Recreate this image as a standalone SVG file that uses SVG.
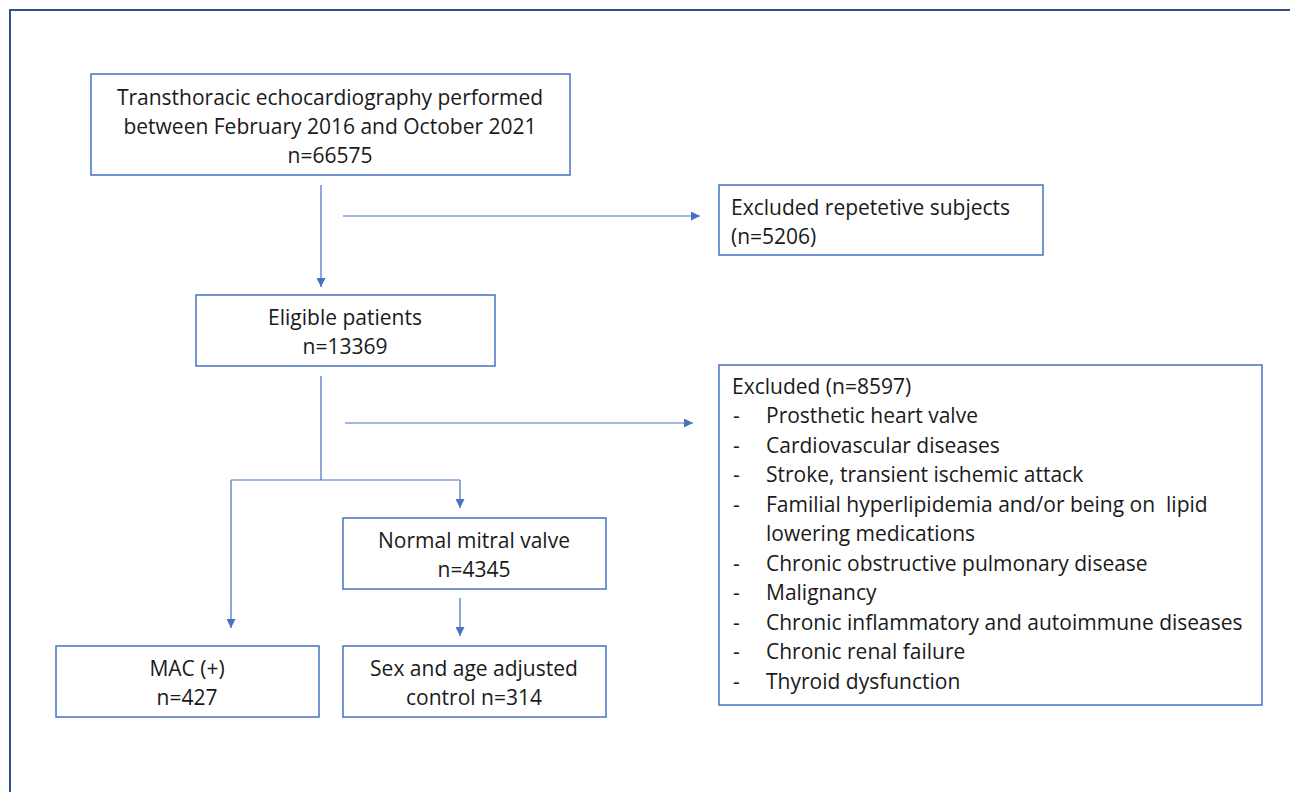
<svg xmlns="http://www.w3.org/2000/svg" width="1290" height="792" viewBox="0 0 1290 792">
<defs>
<style>
.box{fill:#fff;stroke:#4472c4;stroke-width:1.5}
.t{font-family:"Open Sans","Liberation Sans",sans-serif;font-size:21px;fill:#1a1a1a}
.c{text-anchor:middle}
.ln{stroke:#4472c4;stroke-width:1.2;fill:none}
</style>
<marker id="ah" viewBox="0 0 10 10" refX="10" refY="5" markerWidth="9" markerHeight="9" markerUnits="userSpaceOnUse" orient="auto">
<path d="M0,0 L10,5 L0,10 z" fill="#4472c4"/>
</marker>
</defs>
<rect width="1290" height="792" fill="#fff"/>
<path d="M10,792 V10 H1290" fill="none" stroke="#2f528f" stroke-width="2"/>
<g id="connectors">
<line class="ln" x1="321" y1="185" x2="321" y2="287" marker-end="url(#ah)"/>
<line class="ln" x1="343" y1="216" x2="700" y2="216" marker-end="url(#ah)"/>
<line class="ln" x1="321" y1="376" x2="321" y2="480"/>
<line class="ln" x1="231" y1="480" x2="460" y2="480"/>
<line class="ln" x1="231" y1="480" x2="231" y2="628" marker-end="url(#ah)"/>
<line class="ln" x1="460" y1="480" x2="460" y2="508" marker-end="url(#ah)"/>
<line class="ln" x1="345" y1="423" x2="693" y2="423" marker-end="url(#ah)"/>
<line class="ln" x1="460" y1="598" x2="460" y2="636" marker-end="url(#ah)"/>
</g>
<g id="n1">
<rect class="box" x="91" y="74" width="479" height="101"/>
<text class="t c" x="330" y="105">Transthoracic echocardiography performed</text>
<text class="t c" x="330" y="134">between February 2016 and October 2021</text>
<text class="t c" x="330" y="163">n=66575</text>
</g>
<g id="n2">
<rect class="box" x="719" y="185" width="324" height="70"/>
<text class="t" x="731" y="215">Excluded repetetive subjects</text>
<text class="t" x="731" y="244">(n=5206)</text>
</g>
<g id="n3">
<rect class="box" x="196" y="295" width="299" height="71"/>
<text class="t c" x="345" y="325">Eligible patients</text>
<text class="t c" x="345" y="354">n=13369</text>
</g>
<g id="n4">
<rect class="box" x="719" y="365" width="543" height="340"/>
<text class="t" x="732" y="394">Excluded (n=8597)</text>
<g class="t">
<text x="733" y="423">-</text><text x="766" y="423">Prosthetic heart valve</text>
<text x="733" y="453">-</text><text x="766" y="453">Cardiovascular diseases</text>
<text x="733" y="482">-</text><text x="766" y="482">Stroke, transient ischemic attack</text>
<text x="733" y="512">-</text><text x="766" y="512" xml:space="preserve">Familial hyperlipidemia and/or being on  lipid</text>
<text x="766" y="541">lowering medications</text>
<text x="733" y="571">-</text><text x="766" y="571">Chronic obstructive pulmonary disease</text>
<text x="733" y="600">-</text><text x="766" y="600">Malignancy</text>
<text x="733" y="630">-</text><text x="766" y="630">Chronic inflammatory and autoimmune diseases</text>
<text x="733" y="659">-</text><text x="766" y="659">Chronic renal failure</text>
<text x="733" y="689">-</text><text x="766" y="689">Thyroid dysfunction</text>
</g>
</g>
<g id="n5">
<rect class="box" x="343" y="518" width="263" height="71"/>
<text class="t c" x="474" y="548">Normal mitral valve</text>
<text class="t c" x="474" y="577">n=4345</text>
</g>
<g id="n6">
<rect class="box" x="56" y="646" width="263" height="71"/>
<text class="t c" x="187" y="676">MAC (+)</text>
<text class="t c" x="187" y="705">n=427</text>
</g>
<g id="n7">
<rect class="box" x="343" y="646" width="263" height="71"/>
<text class="t c" x="474" y="676">Sex and age adjusted</text>
<text class="t c" x="474" y="705">control n=314</text>
</g>
</svg>
